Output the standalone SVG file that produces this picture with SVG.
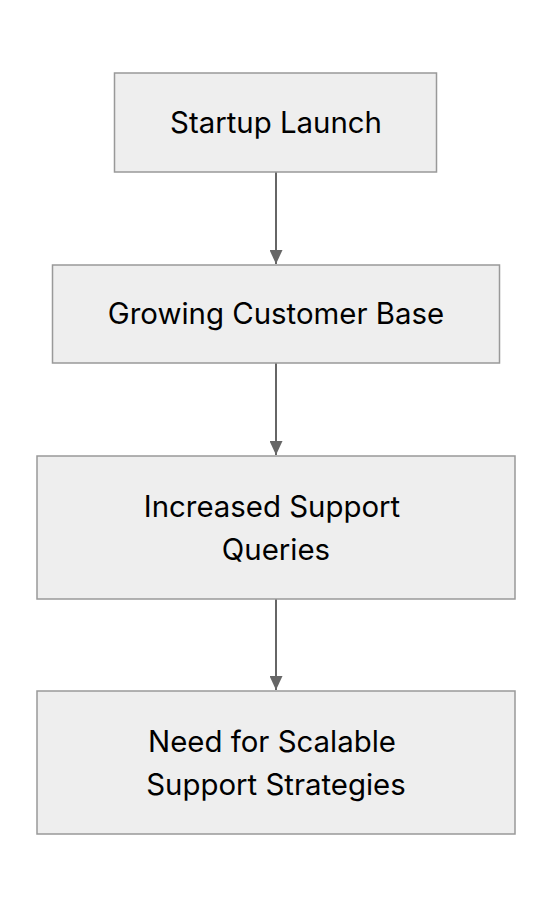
<svg xmlns="http://www.w3.org/2000/svg" width="552" height="908" viewBox="0 0 552 908">
<defs>
<style>
.node rect{fill:#eeeeee;stroke:#999999;stroke-width:1.5}
.node text{font-family:Inter,"Noto Sans",sans-serif;font-size:29.4px;fill:#000000;text-anchor:middle}
.edge{stroke:#666666;stroke-width:2;fill:none}
</style>
<marker id="arrow" viewBox="0 0 14 13" refX="14" refY="6.5" markerWidth="14" markerHeight="13" markerUnits="userSpaceOnUse" orient="auto">
<path d="M0,0 L14,6.5 L0,13 z" fill="#666666"/>
</marker>
</defs>
<rect width="552" height="908" fill="#ffffff"/>
<g id="connectors">
<line class="edge" x1="276" y1="172" x2="276" y2="264" marker-end="url(#arrow)"/>
<line class="edge" x1="276" y1="363" x2="276" y2="455" marker-end="url(#arrow)"/>
<line class="edge" x1="276" y1="599" x2="276" y2="690" marker-end="url(#arrow)"/>
</g>
<g id="node1" class="node">
<rect x="114.5" y="73" width="322" height="99"/>
<text x="276" y="133">Startup Launch</text>
</g>
<g id="node2" class="node">
<rect x="52.5" y="265" width="447" height="98"/>
<text x="276" y="324">Growing Customer Base</text>
</g>
<g id="node3" class="node">
<rect x="37" y="456" width="478" height="143"/>
<text x="272" y="517">Increased Support</text>
<text x="276" y="560">Queries</text>
</g>
<g id="node4" class="node">
<rect x="37" y="691" width="478" height="143"/>
<text x="272" y="752">Need for Scalable</text>
<text x="276" y="795">Support Strategies</text>
</g>
</svg>
